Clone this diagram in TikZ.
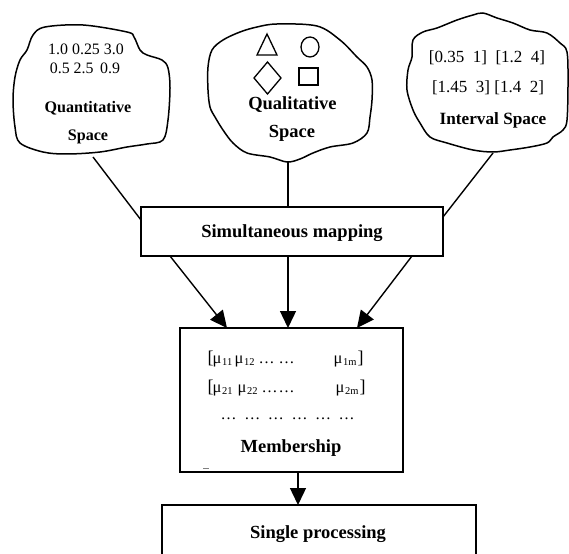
\documentclass[tikz,border=0pt]{standalone}
\usepackage{fontspec}
\setmainfont{Liberation Serif}
\usetikzlibrary{arrows.meta,shapes.geometric}
\newcommand\msub[1]{\raisebox{-2.5pt}{\fontsize{10.5}{11}\selectfont #1}}
\newcommand\mmu{{\fontsize{16.5}{17}\selectfont μ}}
\newcommand\tk[2]{\makebox[0pt][l]{\hspace{#1pt}#2}}
\newcommand\dts{{\fontsize{16}{16}\selectfont …}}
\begin{document}
\begin{tikzpicture}[x=1pt,y=-1pt,
  cloudline/.style={line width=1.5pt,line join=round},
  box/.style={draw,rectangle,line width=1.7pt,inner sep=0pt},
  link/.style={line width=1.4pt},
  arr/.style={link,-{Triangle[length=17pt,width=16pt]}},
  symb/.style={line width=1.3pt},
  lbl/.style={anchor=base,inner sep=0pt},
  numtxt/.style={lbl,font=\fontsize{15.9}{17}\selectfont},
  ivtxt/.style={lbl,font=\fontsize{17}{18}\selectfont},
  qtitle/.style={lbl,font=\fontsize{16.1}{17}\selectfont\bfseries},
  btitle/.style={lbl,font=\fontsize{18.5}{20}\selectfont\bfseries},
  ititle/.style={lbl,font=\fontsize{17.2}{18}\selectfont\bfseries},
  mtxt/.style={anchor=base west,inner sep=0pt,font=\fontsize{18}{19}\selectfont}]
\useasboundingbox (0,0) rectangle (569,553);
\clip (0,0) rectangle (569,553);
\fill[white] (0,0) rectangle (569,553);

% ---- Quantitative cloud
\draw[cloudline] plot[smooth cycle,tension=0.55] coordinates {
 (33,35) (45,27) (83,25) (127,32) (134,37) (140,50) (147,55) (162,60) (168,68)
 (170,88) (168,120) (163,140) (147,144) (127,147) (100,152) (67,154) (43,152)
 (20,143) (15,127) (13,100) (15,77) (20,60) (27,50)};
\node[numtxt] (q1) at (86,55) {1.0 0.25 3.0};
\node[numtxt] (q2) at (85,74) {0.5 2.5\, 0.9};
\node[qtitle] (q3) at (88,113) {Quantitative};
\node[qtitle] (q4) at (88,141) {Space};

% ---- Qualitative cloud
\draw[cloudline] plot[smooth cycle,tension=0.55] coordinates {
 (257,27) (277,24) (317,26) (340,40) (357,57) (367,67) (372,80) (372,100)
 (370,117) (367,133) (353,143) (330,147) (313,153) (300,159) (287,162)
 (270,157) (247,153) (233,143) (223,130) (215,117) (210,107) (208,90)
 (208,67) (212,50) (223,40) (240,32)};
\draw[symb] (267,34) -- (277,55) -- (257,55) -- cycle;
\draw[symb] (310,47) ellipse [x radius=9,y radius=10];
\draw[symb] (267.5,62) -- (281,78) -- (267.5,94) -- (254,78) -- cycle;
\draw[symb] (299,68) rectangle (318,85);
\node[btitle] (l1) at (292.5,110) {Qualitative};
\node[btitle] (l2) at (292,138) {Space};

% ---- Interval cloud
\draw[cloudline] plot[smooth cycle,tension=0.55] coordinates {
 (413,40) (423,32) (437,28) (457,20) (473,15) (483,13) (497,18) (513,23)
 (530,30) (547,33) (560,43) (567,52) (568,83) (567,120) (563,130) (553,137)
 (547,143) (530,147) (510,150) (493,152) (473,150) (447,143) (430,137)
 (420,123) (413,110) (407,90) (408,70) (412,57)};
\node[ivtxt] (i1) at (487,63) {[0.35\ \ 1]\ \ [1.2\ \ 4]};
\node[ivtxt] (i2) at (488,93) {[1.45\ \ 3] [1.4\ \ 2]};
\node[ititle] (i3) at (493,125) {Interval Space};

% ---- boxes
\node[box,minimum width=302pt,minimum height=49pt] (map) at (292,231.5) {};
\node[btitle] (maptxt) at (292,237) {Simultaneous mapping};
\node[box,minimum width=223pt,minimum height=144pt] (memb) at (291.5,400) {};
\node[mtxt] (m1) at (207,363) {\tk{0}{[}\tk{5}{\mmu}\tk{14.5}{\msub{11}}\tk{27}{\mmu}\tk{36.5}{\msub{12}}\tk{51}{\dts}\tk{71}{\dts}\tk{126}{\mmu}\tk{135.5}{\msub{1m}}\tk{150}{]}};
\node[mtxt] (m2) at (207,392) {\tk{0}{[}\tk{5}{\mmu}\tk{14.5}{\msub{21}}\tk{30}{\mmu}\tk{39.5}{\msub{22}}\tk{54}{\dts}\tk{71}{\dts}\tk{128}{\mmu}\tk{137.5}{\msub{2m}}\tk{152}{]}};
\node[mtxt] (m3) at (220,419) {\tk{0}{\dts}\tk{23.6}{\dts}\tk{47.2}{\dts}\tk{70.8}{\dts}\tk{94.4}{\dts}\tk{118}{\dts}};
\node[btitle] (mtitle) at (291,452) {Membership};
\draw[line width=0.8pt,gray] (203,468) -- (209,468);
\node[box,minimum width=314pt,minimum height=115pt] (single) at (319,562.5) {};
\node[btitle] (stxt) at (318,538) {Single processing};

% ---- connector ends
\coordinate (qb) at (93,157);
\coordinate (lb) at (288,162);
\coordinate (ib) at (493,153);
\coordinate (mapL) at (141,220);
\coordinate (mapT) at (288,207);
\coordinate (mapR) at (443,217);
\coordinate (s1) at (170,256);
\coordinate (s2) at (288,256);
\coordinate (s3) at (412,256);
\coordinate (t1) at (227,328);
\coordinate (t2) at (288,328);
\coordinate (t3) at (357,328);
\coordinate (mb) at (298,472);
\coordinate (st) at (298,505);

\draw[link] (qb) -- (mapL);
\draw[link] (lb) -- (mapT);
\draw[link] (ib) -- (mapR);
\draw[arr] (s1) -- (t1);
\draw[arr] (s2) -- (t2);
\draw[arr] (s3) -- (t3);
\draw[arr] (mb) -- (st);
\end{tikzpicture}
\end{document}
